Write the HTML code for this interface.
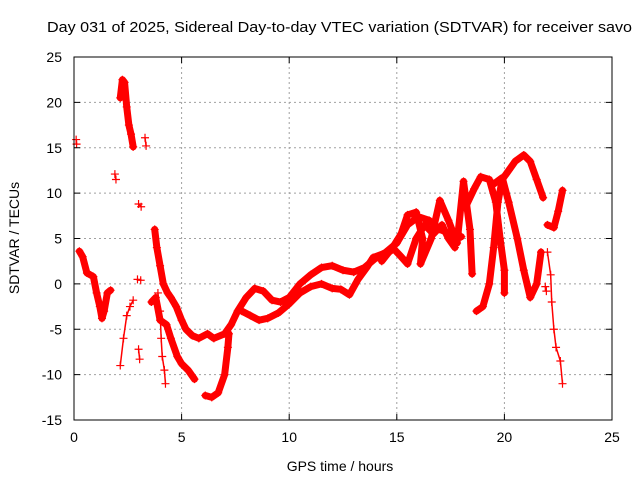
<!DOCTYPE html>
<html><head><meta charset="utf-8"><style>
body{margin:0;background:#fff;}
svg{display:block;font-family:"Liberation Sans",sans-serif;}
</style></head><body>
<svg id="chart" width="640" height="480" viewBox="0 0 640 480" xmlns="http://www.w3.org/2000/svg">
<rect width="640" height="480" fill="#fff"/>
<text x="47" y="32" font-size="15" textLength="585" lengthAdjust="spacingAndGlyphs" fill="#000">Day 031 of 2025, Sidereal Day-to-day VTEC variation (SDTVAR) for receiver savo</text>
<g id="grid"></g><g id="marks"></g><g id="axes"></g>
<text x="340" y="471" font-size="14" text-anchor="middle">GPS time / hours</text>
<text transform="translate(19,238) rotate(-90)" font-size="14" text-anchor="middle">SDTVAR / TECUs</text>
</svg>
<script>
const xTicks=[0,5,10,15,20,25];
const yTicks=[-15,-10,-5,0,5,10,15,20,25];
const track1=[[0.1,15.9],[0.12,15.4]];
const track2=[[0.25,3.6],[0.4,3],[0.6,1.2],[0.9,0.8],[1.05,-1],[1.2,-2.5],[1.3,-3.8],[1.4,-3],[1.55,-1],[1.7,-0.7]];
const track3=[[1.9,12.1],[1.95,11.5]];
const track4=[[2.15,20.5],[2.25,22.5],[2.35,22.2],[2.45,19.5],[2.55,17.5],[2.65,16.5],[2.75,15.1]];
const track5=[[3.3,16.1],[3.35,15.2]];
const track6=[[3.0,8.8],[3.12,8.5]];
const track7=[[2.15,-9],[2.3,-6],[2.45,-3.5],[2.6,-2.5],[2.75,-1.8]];
const track8=[[2.95,0.5],[3.1,0.4]];
const track9=[[3.0,-7.2],[3.05,-8.3]];
const track10=[[3.75,6],[3.85,4],[4.0,2],[4.15,0],[4.35,-1],[4.5,-1.5],[4.75,-2.5],[5.0,-4],[5.2,-5],[5.5,-5.7],[5.8,-6],[6.2,-5.5],[6.5,-6],[7,-5.5],[7.3,-4.5],[7.6,-3],[8,-1.5],[8.4,-0.5],[8.8,-0.8],[9.2,-1.8],[9.6,-2],[10,-1.5],[10.5,0],[11,1],[11.5,1.8],[12,2],[12.5,1.5],[13,1.3],[13.5,1.8],[14,2.8],[14.5,3.5],[15,4.5],[15.5,6.5],[16,7.4],[16.5,7],[17,6],[17.5,5.5],[18,5.2]];
const track11=[[3.6,-2],[3.8,-1.5],[4.0,-4],[4.3,-4.5],[4.5,-6],[4.8,-8],[5.0,-8.8],[5.3,-9.5],[5.6,-10.5]];
const track12=[[3.9,-1],[4.0,-3],[4.05,-6],[4.1,-8],[4.2,-9.5],[4.25,-11]];
const track13=[[6.1,-12.3],[6.4,-12.5],[6.7,-12],[7.0,-10],[7.15,-7],[7.2,-5.5]];
const track14=[[7.8,-3],[8.2,-3.5],[8.6,-4],[9.0,-3.8],[9.5,-3.2],[10,-2.2],[10.5,-1],[11,-0.3],[11.5,0],[12,-0.5],[12.4,-0.6],[12.8,-1.2],[13.2,0.5],[13.6,1.8],[13.9,2.9],[14.7,3.6],[15.2,5.5],[15.5,7.6],[15.9,7.9],[16.2,5],[16.1,2.2],[16.6,5],[17.0,9.2],[17.4,7],[17.8,4.5],[18.1,11.3],[18.4,6],[18.5,1.1]];
const track15=[[14.3,2.5],[14.8,4],[15.2,3],[15.5,2.2],[15.9,5],[16.3,6.5],[16.7,5.5],[17.1,6.5],[17.4,5],[17.7,4]];
const track16=[[18.7,-3],[19.0,-2.5],[19.3,0],[19.5,4],[19.7,9],[19.9,11.5],[20.2,12.5],[20.5,13.5],[20.9,14.2],[21.2,13.5],[21.5,11.5],[21.8,9.5]];
const track17=[[18.2,8.5],[18.6,10.5],[18.9,11.8],[19.3,11.5],[19.6,9],[19.8,5],[20.0,1.5],[20.0,-1]];
const track18=[[19.5,11],[19.9,11.7],[20.2,9],[20.6,5],[20.9,1.5],[21.2,-1.5],[21.5,0],[21.7,3.5]];
const track19=[[22.0,6.5],[22.3,6.2],[22.5,8],[22.7,10.3]];
const track20=[[22.0,3.5],[22.15,1],[22.2,-2],[22.3,-5],[22.4,-7],[22.6,-8.5],[22.7,-11]];
const track21=[[21.9,-0.3],[21.95,-0.8]];
const thickTracks=[track2,track4,track10,track11,track13,track14,track15,track16,track17,track18,track19];
const thinTracks=[track1,track3,track5,track6,track7,track8,track9,track12,track20,track21];

const L=74,R=612,T=57,B=420;
const xs=h=>L+(h-0)/25*(R-L);
const ys=v=>B-(v+15)/40*(B-T);
const NS="http://www.w3.org/2000/svg";
function mk(tag,attrs,parent){const e=document.createElementNS(NS,tag);for(const k in attrs)e.setAttribute(k,attrs[k]);parent.appendChild(e);return e;}
const grid=document.getElementById('grid'),marks=document.getElementById('marks'),axes=document.getElementById('axes');
xTicks.forEach(t=>{const x=xs(t);
 if(t>0&&t<25){const g=mk('line',{x1:x,x2:x,y1:T,y2:B,stroke:'#a0a0a0','stroke-dasharray':'2,3'},grid);
 
 }
 mk('line',{x1:x,x2:x,y1:B,y2:B-6,stroke:'#000'},axes);mk('line',{x1:x,x2:x,y1:T,y2:T+6,stroke:'#000'},axes);
 const l=mk('text',{x:x,y:B+22,'font-size':14,'text-anchor':'middle'},axes);l.textContent=t;
 
 });
yTicks.forEach(t=>{const y=ys(t);
 if(t>-15&&t<25){const g=mk('line',{x1:L,x2:R,y1:y,y2:y,stroke:'#a0a0a0','stroke-dasharray':'2,3'},grid);
 
 }
 mk('line',{x1:L,x2:L+6,y1:y,y2:y,stroke:'#000'},axes);mk('line',{x1:R,x2:R-6,y1:y,y2:y,stroke:'#000'},axes);
 const l=mk('text',{x:L-12,y:y+5,'font-size':14,'text-anchor':'end'},axes);l.textContent=t;
 
 });
const fr=mk('rect',{x:L,y:T,width:R-L,height:B-T,fill:'none',stroke:'#000'},axes);


function drawTrack(tr,w){
 const p=mk('polyline',{points:tr.map(d=>xs(d[0])+','+ys(d[1])).join(' '),fill:'none',stroke:'#f00','stroke-width':w,'stroke-linejoin':'round','stroke-linecap':'round'},marks);
 
 
 tr.forEach(d=>{const x=xs(d[0]),y=ys(d[1]);
  const m=mk('path',{d:`M${x-4},${y}H${x+4}M${x},${y-4}V${y+4}`,stroke:'#f00','stroke-width':1.2},marks);
  
  });
}
thickTracks.forEach(t=>drawTrack(t,7));
thinTracks.forEach(t=>drawTrack(t,1.5));
</script>
</body></html>
